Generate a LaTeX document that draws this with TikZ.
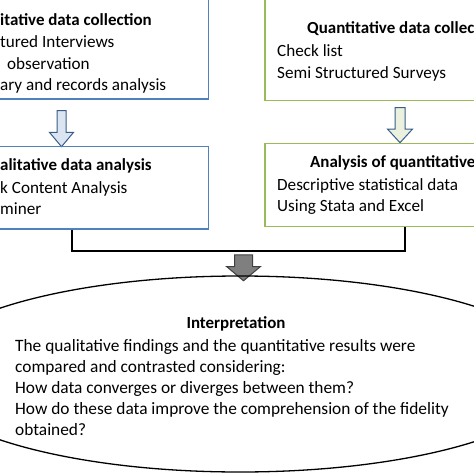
\documentclass[tikz,border=0pt]{standalone}
\usepackage{fontspec}
\setmainfont{Carlito}
\usetikzlibrary{shapes.geometric,shapes.arrows}
\definecolor{qualblue}{HTML}{4F81BD}
\definecolor{quantgreen}{HTML}{9BBB59}
\definecolor{arrowline}{HTML}{385D8A}
\definecolor{paleblue}{HTML}{DBE5F1}
\definecolor{palegreen}{HTML}{EBF1DE}
\definecolor{darkarrow}{HTML}{7F7F7F}
\begin{document}
\begin{tikzpicture}[x=1bp,y=1bp,
  qualbox/.style={rectangle,draw=qualblue,line width=1.3bp,inner sep=0},
  quantbox/.style={rectangle,draw=quantgreen,line width=1.3bp,inner sep=0},
  boxtitle/.style={inner sep=0,anchor=base west,font=\fontsize{17}{22}\selectfont\bfseries},
  boxtext/.style={inner sep=0,anchor=base west,align=left,font=\fontsize{17.2}{22}\selectfont},
  downarrow/.style={single arrow,rotate=-90,draw=arrowline,line width=1bp,single arrow head indent=0pt}]
\useasboundingbox (0,0) rectangle (474,-474);
\clip (0,0) rectangle (474,-474);

\node[qualbox,minimum width=258.5bp,minimum height=109bp] (qualcoll) at (79.25,-44.5) {};
\node[boxtitle] (qualcolltitle) at (0,-26) {itative data collection};
\node[boxtext] (qualcolltext) at (0,-91) {tured Interviews\\\hspace*{7bp}observation\\ary and records analysis};

\node[quantbox,minimum width=275bp,minimum height=110.5bp] (quantcoll) at (402.5,-45.25) {};
\node[boxtitle] (quantcolltitle) at (307,-34) {Quantitative data collec};
\node[boxtext] (quantcolltext) at (277,-78.5) {Check list\\Semi Structured Surveys};

\node[downarrow,fill=paleblue,minimum height=36bp,inner sep=4bp,single arrow head extend=7.5bp,single arrow tip angle=80] (qualarrow) at (61.5,-126) {};
\node[downarrow,fill=palegreen,minimum height=35bp,inner sep=4.5bp,single arrow head extend=7.5bp,single arrow tip angle=85] (quantarrow) at (400,-122.5) {};

\node[qualbox,minimum width=258.5bp,minimum height=82.5bp] (qualana) at (79.25,-187.75) {};
\node[boxtitle] (qualanatitle) at (0,-171) {alitative data analysis};
\node[boxtext] (qualanatext) at (0,-215) {k Content Analysis\\miner};

\node[quantbox,minimum width=275bp,minimum height=83bp] (quantana) at (402.5,-185) {};
\node[boxtitle] (quantanatitle) at (310,-168) {Analysis of quantitative};
\node[boxtext] (quantanatext) at (277,-212) {Descriptive statistical data\\Using Stata and Excel};

\coordinate (joinleft) at (72,-251);
\coordinate (joinright) at (405,-251);
\draw[line width=1.3bp] (joinleft |- qualana.south) -- (joinleft) -- (joinright) -- (joinright |- quantana.south);

\node[downarrow,fill=darkarrow,draw=black!75,minimum height=26bp,inner sep=8.5bp,single arrow head extend=8bp,single arrow tip angle=100] (mergearrow) at (243.5,-264) {};

\node[draw,ellipse,line width=1.3bp,minimum width=648bp,minimum height=196bp,inner sep=0] (interp) at (240,-374) {};
\node[boxtitle,anchor=base] (interptitle) at (236,-328) {Interpretation};
\node[boxtext,font=\fontsize{17.4}{21}\selectfont] (interptext) at (15,-435) {The qualitative findings and the quantitative results were\\compared and contrasted considering:\\How data converges or diverges between them?\\How do these data improve the comprehension of the fidelity\\obtained?};
\end{tikzpicture}
\end{document}
